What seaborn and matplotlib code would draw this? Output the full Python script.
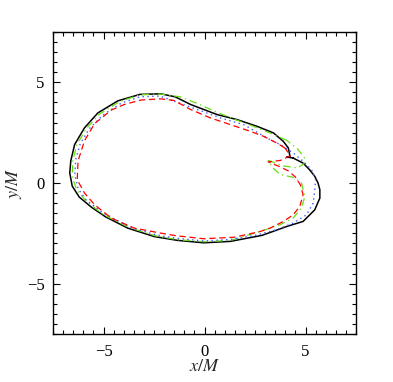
import numpy as np
import pandas as pd
import matplotlib
matplotlib.use("Agg")
import matplotlib.pyplot as plt
import seaborn as sns
from matplotlib.ticker import MultipleLocator

# ---- data ----
black_x = [4.39, 4.07, 4.23, 4.2, 4.15, 3.90, 3.41, 2.59, 1.61, 0.62, -0.69, -1.45, -2.16, -3.2,
           -4.29, -5.28, -5.94, -6.43, -6.62, -6.67, -6.55, -6.2, -5.6, -4.9, -3.80, -2.49, -1.34,
           -0.03, 1.28, 2.85, 4.1, 4.88, 5.46, 5.71, 5.71, 5.62, 5.46, 5.2, 4.88, 4.39]
black_y = [1.24, 1.29, 1.32, 1.49, 1.74, 2.07, 2.49, 2.82, 3.15, 3.40, 3.9, 4.28, 4.43, 4.40,
           4.08, 3.48, 2.74, 1.91, 1.1, 0.5, -0.15, -0.7, -1.2, -1.68, -2.24, -2.66, -2.85,
           -2.97, -2.9, -2.6, -2.15, -1.91, -1.33, -0.75, -0.33, 0.0, 0.33, 0.66, 0.99, 1.24]

red_x = [3.98, 3.57, 2.92, 2.26, 1.28, 0.30, -0.69, -1.51, -2.16, -3.15, -3.97, -4.62, -5.44,
         -5.94, -6.26, -6.3, -5.94, -5.44, -4.62, -3.48, -2.16, -1.4, -0.03, 1.5, 2.75, 3.25,
         3.90, 4.39, 4.72, 4.88, 4.75, 4.5, 4.15, 3.7, 3.15, 3.75, 4.25, 3.98]
red_y = [1.74, 1.99, 2.32, 2.57, 2.9, 3.23, 3.65, 4.1, 4.18, 4.12, 3.9, 3.62, 2.95,
         2.1, 1.1, 0.16, -0.5, -1.08, -1.74, -2.24, -2.49, -2.62, -2.77, -2.69, -2.41, -2.24,
         -1.91, -1.58, -1.16, -0.58, -0.1, 0.3, 0.6, 0.82, 1.05, 1.12, 1.35, 1.74]

blue_x = [-1.5, -0.36, 0.79, 1.94, 3.25, 3.74, 4.39, 4.88, 5.3, 5.5, 5.45, 5.38, 5.05, 4.39,
          3.57, 2.5, 1.3, 0.0, -1.35, -2.4, -3.7, -5.0, -5.85, -6.25, -6.42, -6.38, -6.15,
          -5.7, -5.0, -4.1, -3.2, -2.2, -1.5]
blue_y = [4.06, 3.65, 3.23, 2.9, 2.15, 1.91, 1.49, 1.08, 0.66, 0.16, -0.45, -1.0, -1.58, -1.99,
          -2.32, -2.6, -2.8, -2.88, -2.75, -2.58, -2.18, -1.5, -0.85, -0.3, 0.4, 1.15, 1.95,
          2.7, 3.4, 3.98, 4.28, 4.32, 4.06]

green_x = [4.07, 3.25, 2.26, 1.44, 0.46, -0.28, -1.2, -2.2, -3.2, -4.2, -5.2, -5.85, -6.32,
           -6.52, -6.55, -6.33, -5.85, -5.05, -3.75, -2.45, -1.3, 0.0, 1.3, 2.75, 3.74, 4.39,
           4.8, 4.97, 4.8, 4.45, 3.75, 3.35, 3.16, 3.9, 4.6, 4.92, 4.95, 4.6, 4.07]
green_y = [2.12, 2.48, 2.88, 3.18, 3.58, 3.92, 4.28, 4.42, 4.38, 4.05, 3.42, 2.7, 1.9,
           1.1, 0.33, -0.35, -0.9, -1.55, -2.2, -2.62, -2.82, -2.92, -2.85, -2.41, -2.07, -1.74,
           -1.24, -0.67, 0.0, 0.27, 0.42, 0.78, 1.12, 0.85, 0.75, 0.95, 1.25, 1.7, 2.12]

ticks = [-5, 0, 5]
tick_labels = ["\u22125", "0", "5"]

# ---- figure ----
sns.set_style("white")
plt.rcParams["font.family"] = ["Liberation Serif", "DejaVu Serif"]
plt.rcParams["mathtext.fontset"] = "stix"

fig = plt.figure(figsize=(3.93, 3.82), dpi=100)
ax = fig.add_axes([53 / 393, 1 - 334 / 382, 303 / 393, 302 / 382])

def draw(xs, ys, color, ls, lw, dashes=None):
    df = pd.DataFrame({"x": xs, "y": ys, "i": np.arange(len(xs))})
    sns.lineplot(data=df, x="x", y="y", sort=False, estimator=None, ax=ax,
                 color=color, linewidth=lw, linestyle=ls)
    line = ax.get_lines()[-1]
    if dashes is not None:
        line.set_dashes(dashes)

draw(black_x, black_y, "black", "-", 1.1)
draw(green_x, green_y, "#66dd11", "-.", 0.9, (6, 3, 1, 3))
draw(blue_x, blue_y, "#3d5cff", ":", 1.0, (1, 2.5))
draw(red_x, red_y, "#ff0000", "--", 0.9, (5, 3))

ax.set_xlim(-7.5, 7.5)
ax.set_ylim(-7.5, 7.5)
ax.set_xticks(ticks)
ax.set_xticklabels(tick_labels)
ax.set_yticks(ticks)
ax.set_yticklabels(tick_labels)
ax.xaxis.set_minor_locator(MultipleLocator(0.5))
ax.yaxis.set_minor_locator(MultipleLocator(0.5))
ax.tick_params(which="both", direction="in", top=True, right=True, bottom=True, left=True,
               labelsize=12, colors="black", width=0.8)
ax.tick_params(axis="x", which="both", pad=7)
ax.tick_params(axis="y", which="both", pad=6)
ax.tick_params(which="major", length=5)
ax.tick_params(which="minor", length=3)
for s in ax.spines.values():
    s.set_color("black")
    s.set_linewidth(1.0)

ax.set_xlabel(r"$x/M$", fontsize=13, labelpad=-1)
ax.set_ylabel(r"$y/M$", fontsize=13, labelpad=2)

fig.savefig("out.png", dpi=100, facecolor="white")
